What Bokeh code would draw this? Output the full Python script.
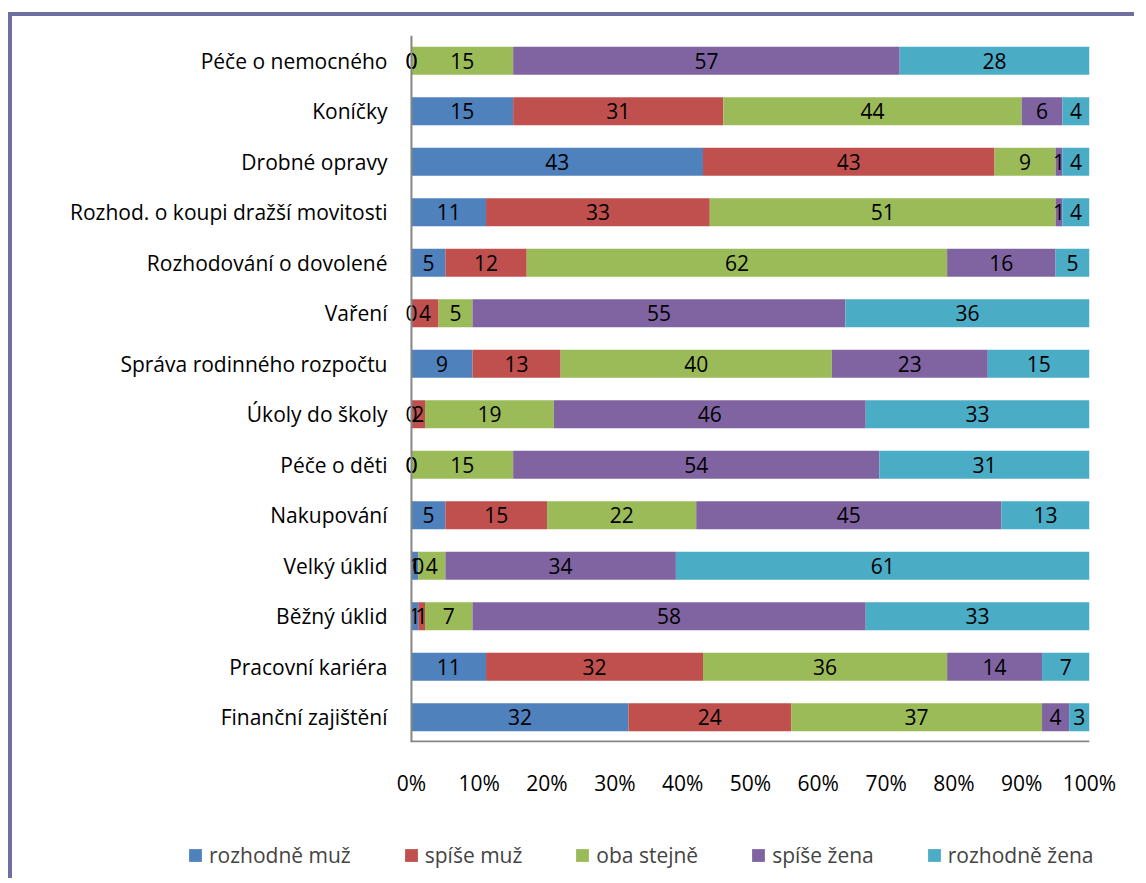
from bokeh.plotting import figure
from bokeh.models import ColumnDataSource, FactorRange, Range1d, FixedTicker, Legend, LegendItem, Span
from bokeh.core.properties import value
from bokeh.embed import file_html
from bokeh.resources import INLINE

categories = [
    "Péče o nemocného", "Koníčky", "Drobné opravy", "Rozhod. o koupi dražší movitosti",
    "Rozhodování o dovolené", "Vaření", "Správa rodinného rozpočtu", "Úkoly do školy",
    "Péče o děti", "Nakupování", "Velký úklid", "Běžný úklid", "Pracovní kariéra",
    "Finanční zajištění",
]
series_names = ["rozhodně muž", "spíše muž", "oba stejně", "spíše žena", "rozhodně žena"]
rozhodne_muz = [0, 15, 43, 11, 5, 0, 9, 0, 0, 5, 1, 1, 11, 32]
spise_muz = [0, 31, 43, 33, 12, 4, 13, 2, 0, 15, 0, 1, 32, 24]
oba_stejne = [15, 44, 9, 51, 62, 5, 40, 19, 15, 22, 4, 7, 36, 37]
spise_zena = [57, 6, 1, 1, 16, 55, 23, 46, 54, 45, 34, 58, 14, 4]
rozhodne_zena = [28, 4, 4, 4, 5, 36, 15, 33, 31, 13, 61, 33, 7, 3]
tick_values = [0, 0.1, 0.2, 0.3, 0.4, 0.5, 0.6, 0.7, 0.8, 0.9, 1.0]
tick_labels = ["0%", "10%", "20%", "30%", "40%", "50%", "60%", "70%", "80%", "90%", "100%"]
colors = ["#4F81BD", "#C0504D", "#9BBB59", "#8064A2", "#4BACC6"]

series = [rozhodne_muz, spise_muz, oba_stejne, spise_zena, rozhodne_zena]
keys = ["s0", "s1", "s2", "s3", "s4"]
totals = [sum(s[i] for s in series) for i in range(len(categories))]

data = {"cat": categories}
for k, s in zip(keys, series):
    data[k] = [v / t for v, t in zip(s, totals)]
source = ColumnDataSource(data)

FONT = "Open Sans"
FS = "21px"
BORDER = "4px solid #6E6EA0"
AXIS_COLOR = "#868686"

p = figure(
    width=1126, height=794,
    y_range=FactorRange(*reversed(categories)),
    x_range=Range1d(-0.025, 1),
    output_backend="svg", toolbar_location=None,
    min_border_left=382, min_border_right=49, min_border_top=19, min_border_bottom=68,
)
p.styles = {"border-left": BORDER, "border-top": BORDER, "margin-top": "12px", "margin-left": "8px"}
p.outline_line_color = None
p.grid.visible = False
p.y_range.range_padding = 0

p.hbar_stack(keys, y="cat", height=0.555, color=colors, source=source, line_color=None)

# axis lines meeting at 0%
p.add_layout(Span(location=0, dimension="height", line_color=AXIS_COLOR, line_width=2))
p.segment(x0=[0], x1=[1], y0=[(categories[-1], -0.48)], y1=[(categories[-1], -0.48)],
          line_color=AXIS_COLOR, line_width=2)

# labels
lab_x, lab_y, lab_t = [], [], []
for i, c in enumerate(categories):
    left = 0.0
    for s in series:
        w = s[i] / totals[i]
        lab_x.append(left + w / 2)
        lab_y.append(c)
        lab_t.append(str(s[i]))
        left += w
lsrc = ColumnDataSource(dict(x=lab_x, y=lab_y, t=lab_t))
p.text(x="x", y="y", text="t", source=lsrc, text_align="center", text_baseline="middle",
       text_font=value(FONT), text_font_size=FS, text_color="black")

p.xaxis.ticker = FixedTicker(ticks=tick_values)
p.xaxis.major_label_overrides = {v: l for v, l in zip(tick_values, tick_labels)}
for ax in (p.xaxis[0], p.yaxis[0]):
    ax.axis_line_color = None
    ax.major_tick_line_color = None
    ax.minor_tick_line_color = None
    ax.major_label_text_font = FONT
    ax.major_label_text_font_size = FS
    ax.major_label_text_color = "black"
p.xaxis.major_label_standoff = 20
p.yaxis.major_label_standoff = 1

# legend figure below the chart
lg = figure(width=1126, height=72, x_range=Range1d(0, 1), y_range=Range1d(0, 1),
            x_axis_location=None, y_axis_location=None,
            output_backend="svg", toolbar_location=None,
            min_border_left=0, min_border_right=0, min_border_top=0, min_border_bottom=0)
lg.styles = {"border-left": BORDER, "margin-left": "8px"}
lg.grid.visible = False
lg.outline_line_color = None
dummies = []
for c in colors:
    dummies.append(lg.hbar(y=[-10], left=[0], right=[0], height=0.5, color=c, line_color=None))
legend = Legend(
    items=[LegendItem(label=n, renderers=[r]) for n, r in zip(series_names, dummies)],
    orientation="horizontal", location=(175, 9),
    border_line_color=None, background_fill_alpha=0,
    label_text_font=FONT, label_text_font_size=FS,
    glyph_width=16, glyph_height=16, label_standoff=6, spacing=52, padding=0, margin=0,
)
lg.add_layout(legend, "center")

open("out.html", "w").write(file_html([p, lg], INLINE))
